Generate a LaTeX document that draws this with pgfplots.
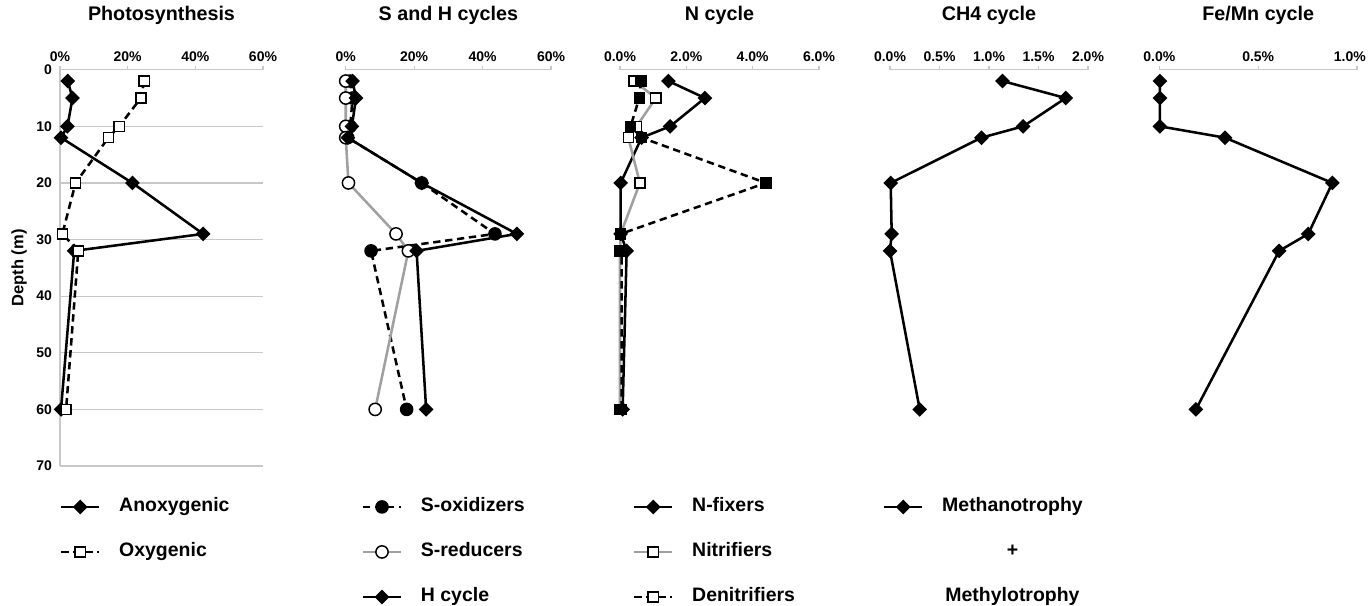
\documentclass[border=0pt]{standalone}
\usepackage{pgfplots}
\pgfplotsset{compat=1.18}
\usepackage{pgfplotstable}
\usepackage{fontspec}
\setmainfont{Liberation Sans}

\definecolor{gridgray}{RGB}{200,200,200}
\definecolor{sergray}{RGB}{160,160,160}

\pgfplotstableread{
d anox oxy
2 2.3 24.9
5 3.7 23.9
10 2.2 17.5
12 0.3 14.3
20 21.4 4.6
29 42.3 0.7
32 4.2 5.4
60 0.3 1.8
}\photo

\pgfplotstableread{
d sox sred h
2 1.3 0.0 2.0
5 2.0 0.0 3.0
10 1.3 0.0 1.8
12 0.6 0.0 0.6
20 22.2 0.8 22.2
29 43.6 14.7 50.0
32 7.4 18.3 20.7
60 17.8 8.6 23.5
}\shcyc

\pgfplotstableread{
d nfix nit denit
2 1.46 0.43 0.63
5 2.56 1.08 0.58
10 1.51 0.50 0.32
12 0.65 0.25 0.65
20 0.02 0.60 4.40
29 0.02 0.02 0.02
32 0.20 0.00 0.05
60 0.08 0.00 0.05
}\ncyc

\pgfplotstableread{
d meth
2 1.136
5 1.775
10 1.345
12 0.924
20 0.007
29 0.017
32 0.000
60 0.300
}\chcyc

\pgfplotstableread{
d femn
2 0.003
5 0.003
10 0.003
12 0.332
20 0.875
29 0.753
32 0.606
60 0.185
}\fecyc

\pgfplotsset{
  panel/.style={
    scale only axis, anchor=north west, height=297.2pt,
    y dir=reverse, ymin=0, ymax=70, ytick={0,10,...,70},
    ymajorgrids, grid style={gridgray, line width=0.9pt},
    axis x line*=top,
    x axis line style={gridgray, line width=0.9pt},
    xtick style={gridgray, line width=0.9pt},
    ytick style={draw=none},
    tick align=outside, major tick length=2.5pt,
    ticklabel style={font=\fontsize{10.5pt}{12pt}\selectfont\bfseries},
    /pgf/number format/assume math mode=true,
    title style={font=\fontsize{14.8pt}{17pt}\selectfont\bfseries, at={(0.5,1)}, anchor=base, yshift=30.9pt},
    legend style={draw=none, fill=none, at={(0,0)}, anchor=north west, yshift=-24.2pt,
      inner sep=0pt, outer sep=0pt,
      font=\fontsize{14.6pt}{17pt}\selectfont\bfseries, row sep=20.75pt, column sep=14pt,
      nodes={inner sep=0pt, text height=10pt, text depth=3pt}},
    legend cell align=left,
    legend image code/.code={\draw[mark repeat=2,mark phase=2] plot coordinates {(0pt,0pt) (14.25pt,0pt) (28.5pt,0pt)};},
    clip=false,
  },
  noleft/.style={axis y line=none, yticklabels={}},
  dia/.style={black, line width=1.9pt, mark=square*, mark size=3.4pt, mark options={rotate=45, solid, fill=black, line width=1pt}},
  wsq/.style={line width=1.9pt, mark=square*, mark size=3.8pt, mark options={solid, fill=white, draw=black, line width=1.1pt}},
  bsq/.style={black, line width=1.9pt, dash pattern=on 5.5pt off 3.5pt, mark=square*, mark size=3.8pt, mark options={solid, fill=black, draw=black, line width=1pt}},
  dsh/.style={dash pattern=on 5.5pt off 3.5pt},
}

\begin{document}
\begin{tikzpicture}
\path[use as bounding box] (0,0) rectangle (1026.75pt,-454.5pt);

% Panel 1
\begin{axis}[panel, at={(45pt,-52.3pt)}, width=152.25pt,
  xmin=0, xmax=60, xtick={0,20,40,60}, xticklabels={0\%,20\%,40\%,60\%},
  axis y line*=left, y axis line style={gridgray, line width=0.9pt},
  ylabel={Depth (m)}, ylabel style={font=\fontsize{12.4pt}{14pt}\selectfont\bfseries, at={(0,0.5)}, anchor=center, yshift=30.75pt},
  title={Photosynthesis}]
\addplot[dia] table[x=anox, y=d] {\photo};
\addlegendentry{Anoxygenic}
\addplot[black, wsq, dsh] table[x=oxy, y=d] {\photo};
\addlegendentry{Oxygenic}
\end{axis}

% Panel 2
\begin{axis}[panel, noleft, at={(259.3pt,-52.3pt)}, width=154pt,
  xmin=0, xmax=60, xtick={0,20,40,60}, xticklabels={0\%,20\%,40\%,60\%},
  legend style={xshift=12pt},
  title={S and H cycles}]
\addplot[black, line width=1.9pt, dash pattern=on 5.5pt off 3.5pt, mark=*, mark size=4.6pt, mark options={solid, fill=black, line width=1pt}] table[x=sox, y=d] {\shcyc};
\addlegendentry{S-oxidizers}
\addplot[sergray, line width=1.9pt, mark=*, mark size=4.6pt, mark options={solid, fill=white, draw=black, line width=1.1pt}] table[x=sred, y=d] {\shcyc};
\addlegendentry{S-reducers}
\addplot[dia] table[x=h, y=d] {\shcyc};
\addlegendentry{H cycle}
\end{axis}

% Panel 3
\begin{axis}[panel, noleft, at={(465pt,-52.3pt)}, width=149.25pt,
  xmin=0, xmax=6, xtick={0,2,4,6}, xticklabels={0.0\%,2.0\%,4.0\%,6.0\%},
  legend style={xshift=9.75pt},
  title={N cycle}]
\addplot[dia] table[x=nfix, y=d] {\ncyc};
\addlegendentry{N-fixers}
\addplot[sergray, wsq] table[x=nit, y=d] {\ncyc};
\addlegendentry{Nitrifiers}
\addplot[bsq, forget plot] table[x=denit, y=d] {\ncyc};
\addlegendimage{black, wsq, dsh}
\addlegendentry{Denitrifiers}
\end{axis}

% Panel 4
\begin{axis}[panel, noleft, at={(667.5pt,-52.3pt)}, width=148.5pt,
  xmin=0, xmax=2, xtick={0,0.5,1,1.5,2}, xticklabels={0.0\%,0.5\%,1.0\%,1.5\%,2.0\%},
  legend style={xshift=-5.25pt},
  title={CH4 cycle}]
\addplot[dia] table[x=meth, y=d] {\chcyc};
\addlegendentry{\begin{tabular}[t]{@{}c@{}}Methanotrophy\\[16.75pt]+\\[16.75pt]Methylotrophy\end{tabular}}
\end{axis}

% Panel 5
\begin{axis}[panel, noleft, at={(869.5pt,-52.3pt)}, width=148.3pt,
  xmin=0, xmax=1, xtick={0,0.5,1}, xticklabels={0.0\%,0.5\%,\makebox[13pt][r]{1.0\%}},
  title={Fe/Mn cycle}]
\addplot[dia] table[x=femn, y=d] {\fecyc};
\end{axis}
\end{tikzpicture}
\end{document}
